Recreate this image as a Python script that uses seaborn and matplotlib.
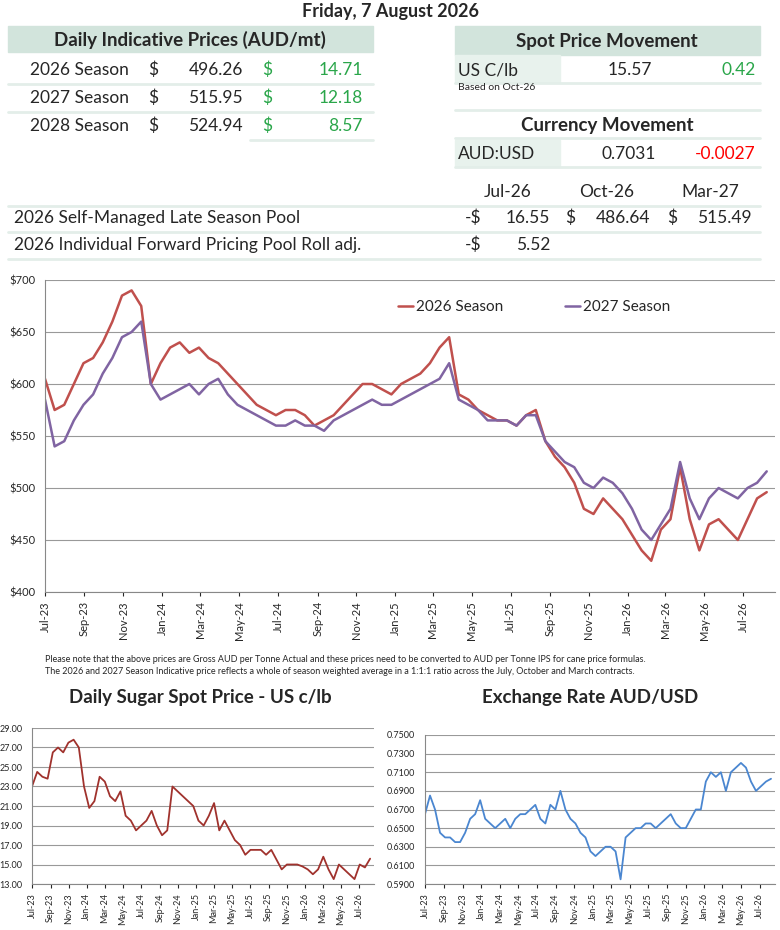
import numpy as np, pandas as pd, matplotlib
matplotlib.use("Agg")
import matplotlib.pyplot as plt
import matplotlib.dates as mdates
from matplotlib.patches import Rectangle
import seaborn as sns

sns.set_style("white")
plt.rcParams['font.family'] = ['Liberation Sans Narrow', 'Lato', 'DejaVu Sans']

season_2026 = [605,575,580,600,620,625,640,660,685,690,675,600,620,635,640,630,635,625,620,610,600,590,580,575,570,575,575,570,560,565,570,580,590,600,600,595,590,600,605,610,620,635,645,590,585,575,570,565,565,560,570,575,545,530,520,505,480,475,490,480,470,455,440,430,460,470,520,470,440,465,470,460,450,470,490,496]
season_2027 = [585,540,545,565,580,590,610,625,645,650,660,600,585,590,595,600,590,600,605,590,580,575,570,565,560,560,565,560,560,555,565,570,575,580,585,580,580,585,590,595,600,605,620,585,580,575,565,565,565,560,570,570,545,535,525,520,505,500,510,505,495,480,460,450,465,480,525,490,470,490,500,495,490,500,505,516]
sugar = [23,24.5,24,23.8,26.5,27,26.5,27.5,27.8,27,23,20.8,21.5,24,23.5,22,21.5,22.5,20,19.5,18.5,19,19.5,20.5,19,18,18.5,23,22.5,22,21.5,21,19.5,19,20,21.3,18.5,19.5,18.5,17.5,17,16,16.5,16.5,16.5,16,16.5,15.5,14.5,15,15,15,14.8,14.5,14,14.5,15.8,14.5,13.5,15,14.5,14,13.5,15,14.7,15.6]
fx = [0.665,0.685,0.67,0.645,0.64,0.64,0.635,0.635,0.645,0.66,0.665,0.68,0.66,0.655,0.65,0.655,0.66,0.65,0.66,0.665,0.665,0.67,0.675,0.66,0.655,0.675,0.67,0.69,0.67,0.66,0.655,0.645,0.64,0.625,0.62,0.625,0.63,0.63,0.625,0.595,0.64,0.645,0.65,0.65,0.655,0.655,0.65,0.655,0.66,0.665,0.655,0.65,0.65,0.66,0.67,0.67,0.70,0.71,0.705,0.71,0.69,0.71,0.715,0.72,0.715,0.70,0.69,0.695,0.70,0.703]

start, end = pd.Timestamp("2023-07-01"), pd.Timestamp("2026-08-07")
def dates(n): return pd.to_datetime(np.linspace(start.value, end.value, n))

W, H = 780, 930
fig = plt.figure(figsize=(7.8, 9.3), dpi=100)
def fx_(x): return x / W
def fy(y): return 1 - y / H
def txt(x, y, s, **kw):
    kw.setdefault('fontsize', 12.5); kw.setdefault('va', 'center')
    fig.text(fx_(x), fy(y), s, **kw)
def band(x0, y0, x1, y1, c):
    fig.patches.append(Rectangle((fx_(x0), fy(y1)), fx_(x1 - x0), (y1 - y0) / H, transform=fig.transFigure, color=c, zorder=0))
def hline(x0, x1, y, c='#e3eee9', lw=2):
    fig.lines.append(plt.Line2D([fx_(x0), fx_(x1)], [fy(y), fy(y)], transform=fig.transFigure, color=c, lw=lw))

GREEN = '#2aa64a'; HDR = '#d2e4dc'; LT = '#e8f2ed'
txt(390, 11, "Friday, 7 August 2026", ha='center', fontsize=13, fontweight='bold')
band(8, 26, 373, 52, HDR)
txt(190, 40, "Daily Indicative Prices (AUD/mt)", ha='center', fontsize=13.5, fontweight='bold')
rows = [("2026 Season", "496.26", "14.71"), ("2027 Season", "515.95", "12.18"), ("2028 Season", "524.94", "8.57")]
for i, (a, b, c) in enumerate(rows):
    y = 70 + i * 28
    txt(30, y, a); txt(148, y, "$"); txt(243, y, b, ha='right')
    txt(262, y, "$", color=GREEN); txt(363, y, c, ha='right', color=GREEN)
    hline(8 if i < 2 else 250, 373, y + 14)
band(455, 26, 760, 55, HDR)
txt(607, 42, "Spot Price Movement", ha='center', fontsize=13.5, fontweight='bold')
band(455, 55, 560, 82, LT)
txt(458, 70, "US C/lb"); txt(652, 70, "15.57", ha='right'); txt(756, 70, "0.42", ha='right', color=GREEN)
hline(455, 760, 83)
txt(458, 88, "Based on Oct-26", fontsize=7.5)
hline(455, 760, 110)
txt(607, 126, "Currency Movement", ha='center', fontsize=13.5, fontweight='bold')
hline(455, 760, 138)
band(455, 140, 560, 166, LT)
txt(458, 154, "AUD:USD"); txt(656, 154, "0.7031", ha='right'); txt(756, 154, "-0.0027", ha='right', color='red')
hline(455, 760, 167)
for x, s in [(508, "Jul-26"), (607, "Oct-26"), (710, "Mar-27")]:
    txt(x, 192, s, ha='center')
hline(8, 760, 206)
txt(14, 218, "2026 Self-Managed Late Season Pool")
txt(465, 218, "-$"); txt(550, 218, "16.55", ha='right'); txt(565, 218, "$"); txt(650, 218, "486.64", ha='right')
txt(667, 218, "$"); txt(752, 218, "515.49", ha='right')
hline(8, 760, 232)
txt(14, 245, "2026 Individual Forward Pricing Pool Roll adj.")
txt(465, 245, "-$"); txt(550, 245, "5.52", ha='right')
hline(8, 760, 259)

def style(ax, fmt, ticks, fs):
    ax.yaxis.grid(True, color='#999999', lw=0.8); ax.xaxis.grid(False)
    ax.set_yticks(ticks)
    ax.yaxis.set_major_formatter(matplotlib.ticker.FuncFormatter(fmt))
    ax.xaxis.set_major_locator(mdates.MonthLocator(bymonth=[1,3,5,7,9,11]))
    ax.xaxis.set_major_formatter(mdates.DateFormatter('%b-%y'))
    ax.tick_params(axis='x', rotation=90, labelsize=fs, length=3, bottom=True)
    ax.tick_params(axis='y', labelsize=fs)
    for s in ['top', 'right']: ax.spines[s].set_visible(False)
    for s in ['left', 'bottom']: ax.spines[s].set_color('#888888')
    ax.set_xlim(start, pd.Timestamp("2026-08-20"))
    ax.set_xlabel(''); ax.set_ylabel('')

ax = fig.add_axes([fx_(45), fy(592), fx_(730), (592 - 280) / H])
d = dates(len(season_2026))
df = pd.DataFrame({'date': np.concatenate([d, d]), 'price': season_2026 + season_2027,
                   'series': ['2026 Season'] * len(d) + ['2027 Season'] * len(d)})
sns.lineplot(data=df, x='date', y='price', hue='series', palette=['#c0504d', '#8064a2'], lw=1.8, ax=ax)
ax.set_ylim(400, 700)
style(ax, lambda v, p: f"${v:.0f}", [400, 450, 500, 550, 600, 650, 700], 8)
ax.legend(loc='upper center', bbox_to_anchor=(0.67, 0.98), ncol=2, frameon=False, fontsize=11,
          handlelength=1.0, handletextpad=0.2, columnspacing=4)
txt(45, 659, "Please note that the above prices are Gross AUD per Tonne Actual and these prices need to be converted to AUD per Tonne IPS for cane price formulas.", fontsize=6.5)
txt(45, 671, "The 2026 and 2027 Season Indicative price reflects a whole of season weighted average in a 1:1:1 ratio across the July, October and March contracts.", fontsize=6.5)

txt(200, 697, "Daily Sugar Spot Price - US c/lb", ha='center', fontsize=13.5, fontweight='bold')
ax2 = fig.add_axes([fx_(32), fy(884), fx_(342), (884 - 728) / H])
sns.lineplot(x=dates(len(sugar)), y=sugar, color='#a0322d', lw=1.3, ax=ax2)
ax2.set_ylim(13, 29)
style(ax2, lambda v, p: f"{v:.2f}", np.arange(13, 30, 2), 6.5)

txt(590, 697, "Exchange Rate AUD/USD", ha='center', fontsize=13.5, fontweight='bold')
ax3 = fig.add_axes([fx_(425), fy(884), fx_(350), (884 - 735) / H])
sns.lineplot(x=dates(len(fx)), y=fx, color='#4a86d0', lw=1.3, ax=ax3)
ax3.set_ylim(0.59, 0.75)
style(ax3, lambda v, p: f"{v:.4f}", np.arange(0.59, 0.7501, 0.02), 6.5)

fig.savefig("out.png", dpi=100)
